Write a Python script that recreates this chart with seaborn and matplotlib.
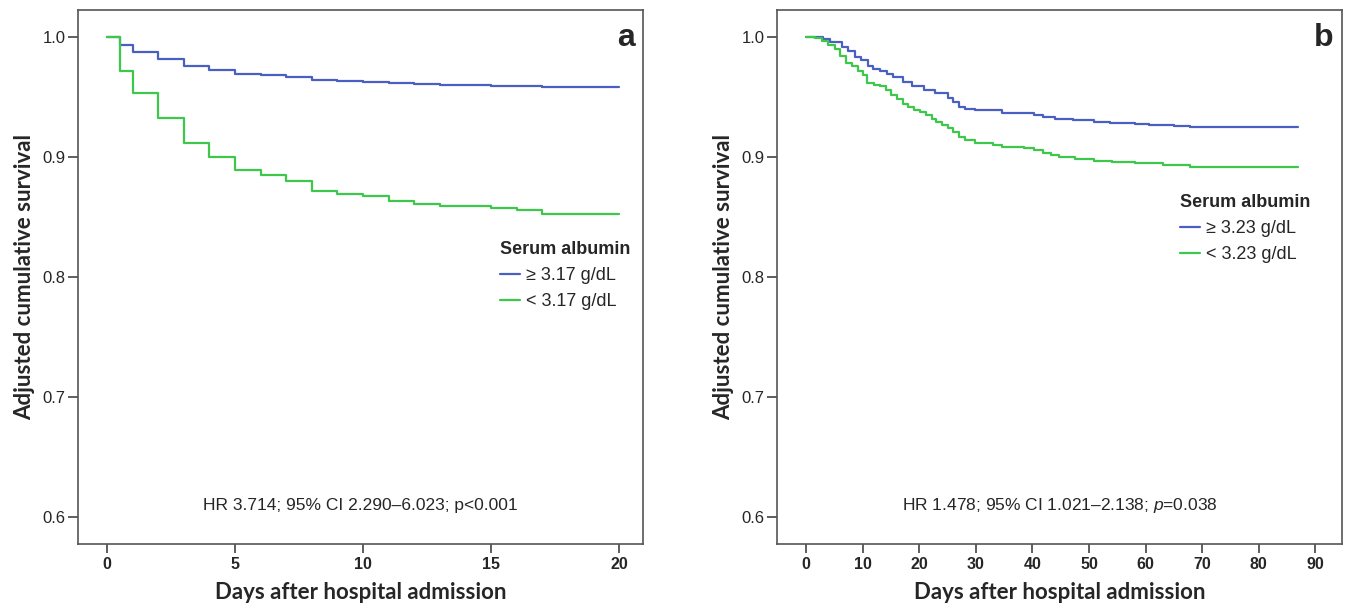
import matplotlib
matplotlib.use("Agg")
import matplotlib.pyplot as plt
import seaborn as sns
import pandas as pd
from matplotlib.lines import Line2D

# ── Data ───────────────────────────────────────────
days_a = [0, 0.5, 1, 2, 3, 4, 5, 6, 7, 8, 9, 10, 11, 12, 13, 15, 16, 17, 20]
surv_a_high = [1.0, 0.993, 0.9875, 0.982, 0.976, 0.9725, 0.9694, 0.968, 0.9664, 0.9642,
               0.963, 0.9625, 0.9614, 0.961, 0.960, 0.9594, 0.9589, 0.9583, 0.9583]
surv_a_low = [1.0, 0.972, 0.953, 0.9325, 0.912, 0.8997, 0.8894, 0.8853, 0.8797, 0.8714,
              0.8692, 0.8672, 0.863, 0.861, 0.8589, 0.8575, 0.8556, 0.8528, 0.8528]

days_b_high = [0, 3, 4.3, 6.4, 7.5, 8.6, 9.8, 10.9, 11.9, 13.1, 14.3, 15.3, 17.1, 18.8, 20.9,
               22.8, 25, 26, 27.1, 28.1, 29.9, 34.7, 38.8, 40.2, 41.9, 44, 47.1, 50.9, 53.7,
               58.2, 60.6, 63, 65.1, 67.9, 87]
surv_b_high = [1.0, 0.9986, 0.996, 0.992, 0.988, 0.983, 0.981, 0.9756, 0.9736, 0.972, 0.9694,
               0.967, 0.9625, 0.9589, 0.956, 0.953, 0.949, 0.9456, 0.942, 0.940, 0.939, 0.937,
               0.9367, 0.935, 0.9336, 0.9317, 0.9306, 0.9294, 0.9286, 0.9278, 0.927, 0.9264,
               0.9258, 0.925, 0.925]

days_b_low = [0, 1.5, 2.9, 3.9, 5.1, 6, 7, 8.1, 9.1, 10, 10.8, 12, 13.1, 14.2, 15, 16, 17.1,
              18.1, 19, 20.2, 21.2, 22.3, 22.9, 24, 25, 26, 27.1, 28.1, 29.9, 33, 34.7, 38.5,
              40.2, 41.9, 43.3, 44.7, 47.5, 50.9, 54, 58.2, 63, 67.9, 87]
surv_b_low = [1.0, 0.999, 0.997, 0.9936, 0.990, 0.984, 0.978, 0.9756, 0.972, 0.9686, 0.9617,
              0.960, 0.9589, 0.956, 0.952, 0.9486, 0.9444, 0.942, 0.9394, 0.9375, 0.935,
              0.9317, 0.929, 0.927, 0.924, 0.9208, 0.9167, 0.914, 0.9117, 0.910, 0.908, 0.9075,
              0.9056, 0.9036, 0.9014, 0.8997, 0.898, 0.897, 0.896, 0.895, 0.8936, 0.8914, 0.8914]

labels_a = ["\u2265 3.17 g/dL", "< 3.17 g/dL"]
labels_b = ["\u2265 3.23 g/dL", "< 3.23 g/dL"]
hr_a = "HR 3.714; 95% CI 2.290\u20136.023; p<0.001"
hr_b = "HR 1.478; 95% CI 1.021\u20132.138; $\\it{p}$=0.038"
yticks = [0.6, 0.7, 0.8, 0.9, 1.0]
xticks_a = [0, 5, 10, 15, 20]
xticks_b = [0, 10, 20, 30, 40, 50, 60, 70, 80, 90]

# ── Style ─────────────────────────────────────────
sns.set_style("white")
plt.rcParams["font.family"] = ["Liberation Sans", "DejaVu Sans"]
plt.rcParams["mathtext.fontset"] = "custom"
plt.rcParams["mathtext.rm"] = "Liberation Sans"
plt.rcParams["mathtext.it"] = "Liberation Sans:italic"
blue = "#4A5FC2"
green = "#3EC84B"
label_font = dict(family=["Lato", "Open Sans", "DejaVu Sans"], weight="bold", size=16)

fig = plt.figure(figsize=(13.46, 6.07), dpi=100)
W, H = 1346, 607
ax_a = fig.add_axes([78 / W, 1 - 544 / H, (643 - 78) / W, (544 - 10) / H])
ax_b = fig.add_axes([777 / W, 1 - 544 / H, (1342 - 777) / W, (544 - 10) / H])


def draw_panel(ax, high, low, labels, xlim, xticks, hr_text, letter, leg_anchor):
    d1, s1 = high
    d2, s2 = low
    df = pd.concat([
        pd.DataFrame({"day": d1, "surv": s1, "group": labels[0]}),
        pd.DataFrame({"day": d2, "surv": s2, "group": labels[1]}),
    ])
    sns.lineplot(data=df, x="day", y="surv", hue="group", palette=[blue, green],
                 estimator=None, drawstyle="steps-post", linewidth=1.6,
                 legend=False, ax=ax)
    ax.set_xlim(*xlim)
    ax.set_ylim(0.5775, 1.0225)
    ax.set_xticks(xticks)
    ax.set_yticks(yticks)
    ax.set_yticklabels([f"{v:.1f}" for v in yticks])
    ax.tick_params(axis="x", direction="out", length=6.5, width=1.1, color="#333333",
                   labelsize=11.5, pad=3, bottom=True)
    ax.tick_params(axis="y", direction="out", length=7, width=1.1, color="#333333",
                   labelsize=12, pad=2, left=True)
    for lab in ax.get_xticklabels():
        lab.set_fontweight("bold")
    for sp in ax.spines.values():
        sp.set_visible(True)
        sp.set_color("#555555")
        sp.set_linewidth(1.2)
    ax.set_xlabel("Days after hospital admission", fontdict=label_font, labelpad=7)
    ax.set_ylabel("Adjusted cumulative survival", fontdict=label_font, labelpad=5)

    handles = [Line2D([], [], color=blue, lw=1.6), Line2D([], [], color=green, lw=1.6)]
    leg = ax.legend(handles, labels, title="Serum albumin", loc="upper left",
                    bbox_to_anchor=leg_anchor, bbox_transform=fig.transFigure,
                    frameon=False, handlelength=1.1, handletextpad=0.3,
                    labelspacing=0.5, fontsize=13,
                    title_fontproperties={"weight": "bold", "size": 13})
    leg._legend_box.align = "left"

    ax.text(0.5, 0.073, hr_text, transform=ax.transAxes, ha="center", va="center",
            fontsize=12.5)
    ax.text(0.985, 0.975, letter, transform=ax.transAxes, ha="right", va="top",
            fontsize=23, fontweight="bold")


draw_panel(ax_a, (days_a, surv_a_high), (days_a, surv_a_low), labels_a,
           (-1.13, 20.94), xticks_a, hr_a, "a", (484 / W, 1 - 225 / H))
draw_panel(ax_b, (days_b_high, surv_b_high), (days_b_low, surv_b_low), labels_b,
           (-5.13, 94.7), xticks_b, hr_b, "b", (1164 / W, 1 - 178 / H))

fig.savefig("out.png", dpi=100)
